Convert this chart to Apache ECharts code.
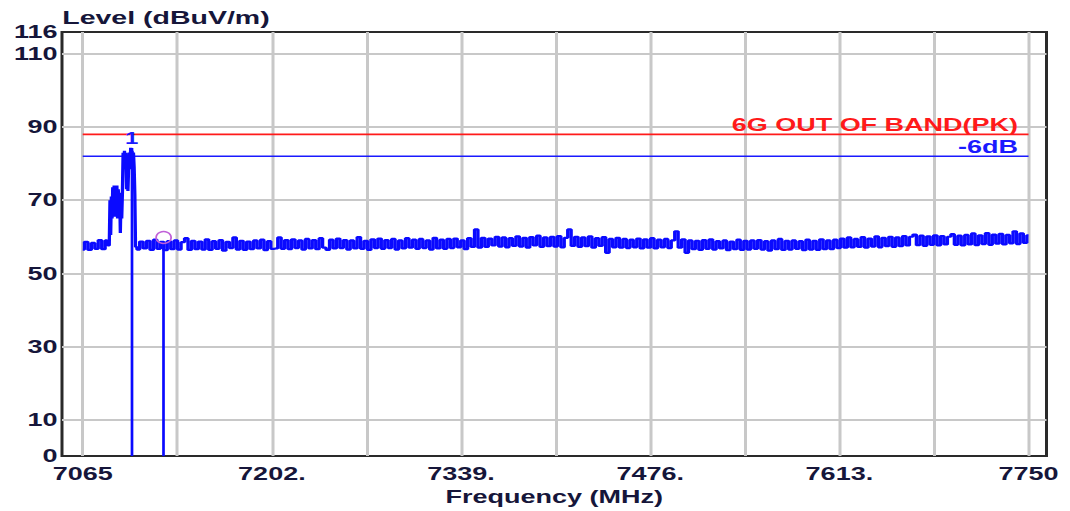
<!DOCTYPE html>
<html>
<head>
<meta charset="utf-8">
<script src="https://cdn.jsdelivr.net/npm/echarts@6/dist/echarts.min.js"></script>
<style>
  html, body { margin: 0; padding: 0; background: #fff; overflow: hidden; }
  /* the analyzer plot is stretched sideways, so draw narrow and widen it */
  #chart { width: 713.333px; height: 511px; transform: scaleX(1.5); transform-origin: 0 0; }
</style>
</head>
<body>
<div id="chart"></div>
<script>
// axis ticks
var xLabelValues = [7065, 7202, 7339, 7476, 7613, 7750];
var xLabelTexts  = ['7065', '7202.', '7339.', '7476.', '7613.', '7750'];
var xGridValues  = [7065, 7133.5, 7202, 7270.5, 7339, 7407.5, 7476, 7544.5, 7613, 7681.5, 7750];
var yLabelValues = [0, 10, 30, 50, 70, 90, 110, 116];
var yGridValues  = [10, 30, 50, 70, 90, 110];

// limit lines (dBuV/m)
var limitFreq   = [7065, 7750];
var limitLevel  = [88, 88];      // 6G OUT OF BAND(PK)
var marginLevel = [82, 82];      // -6dB

// sweep: noise floor before the carrier
var sweepStep = 2.5;
var noiseAStart = 7065;
var noiseA = [56.5, 58.6, 56.4, 58.3, 56.7, 59.1, 56.6, 59.0];

// carrier region
var peakFreq  = [7084, 7084.5, 7085, 7085.5, 7086, 7086.5, 7087, 7087.5, 7088, 7088.5,
                 7089, 7089.5, 7090, 7090.5, 7091, 7091.5, 7092, 7092.5, 7093, 7093.5,
                 7094, 7094.5, 7095, 7095.5, 7096, 7096.5, 7097, 7097.5, 7098, 7098.5,
                 7099, 7099.5, 7100, 7100.5, 7101, 7101.5, 7102, 7102.5, 7103, 7103.5];
var peakLevel = [57.6, 58.2, 70.0, 60.5, 71.0, 65.0, 73.5, 66.0, 74.0, 65.5,
                 73.5, 66.0, 74.0, 65.0, 73.0, 66.0, 72.0, 61.0, 71.0, 65.0,
                 72.0, 83.0, 79.0, 83.5, 78.5, 83.0, 73.0, 78.0, 72.5, 79.0,
                 83.0, 79.0, 84.3, 78.5, 83.5, 78.0, 83.0, 79.0, 71.5, 57.2];

// noise floor after the carrier
var noiseBStart = 7105;
var noiseB = [
  56.5, 58.7, 56.8, 58.9, 56.4, 59.2, 56.7, 58.6, 56.3, 58.8,
  56.6, 59.0, 56.5, 58.5, 59.6, 56.4, 58.9, 56.6, 58.7, 56.5,
  59.3, 56.4, 58.8, 56.7, 59.1, 56.2, 58.6, 56.9, 59.8, 56.5,
  58.9, 56.4, 58.7, 56.6, 59.0, 56.8, 59.2, 56.3, 58.8, 56.7,
  56.8, 59.8, 56.7, 59.1, 56.6, 59.3, 56.9, 59.0, 56.5, 59.4,
  56.8, 59.1, 56.6, 59.6, 57.0, 56.4, 59.2, 56.8, 59.5, 56.9,
  59.1, 56.5, 59.0, 56.8, 59.9, 56.7, 58.9, 56.4, 59.3, 56.9,
  59.5, 56.7, 59.1, 56.9, 59.4, 56.5, 59.0, 56.8, 59.6, 57.0,
  59.2, 56.7, 59.4, 56.9, 59.0, 56.5, 59.7, 56.8, 59.2, 56.7,
  59.4, 56.9, 59.5, 57.1, 59.0, 56.6, 59.6, 57.2, 62.0, 57.0,
  59.7, 57.2, 59.5, 57.6, 60.0, 57.3, 59.8, 57.1, 59.6, 57.5,
  60.1, 57.3, 59.7, 57.0, 59.9, 57.6, 60.3, 57.2, 59.8, 57.4,
  60.0, 57.3, 60.2, 57.1, 59.7, 62.0, 57.5, 60.0, 57.2, 59.8,
  57.4, 60.1, 57.0, 59.6, 57.5, 59.9, 55.6, 59.4, 57.1, 59.7,
  57.0, 59.4, 56.9, 59.2, 57.1, 59.5, 56.8, 59.3, 57.0, 59.6,
  56.8, 59.2, 57.1, 59.4, 56.9, 59.0, 61.5, 57.0, 59.3, 55.6,
  59.0, 56.6, 58.9, 56.4, 59.1, 56.7, 59.3, 56.5, 58.8, 56.8,
  59.0, 56.3, 58.7, 56.6, 59.2, 56.4, 58.9, 56.5, 59.0, 56.7,
  59.1, 56.5, 58.8, 56.2, 59.0, 56.6, 59.4, 56.4, 58.9, 56.5,
  59.0, 56.7, 58.8, 56.3, 59.2, 56.5, 58.9, 56.4, 59.3, 56.6,
  59.0, 56.6, 59.2, 56.9, 59.5, 57.0, 59.8, 57.1, 59.4, 57.2,
  59.9, 57.0, 59.5, 57.3, 60.1, 57.1, 59.7, 57.4, 60.0, 57.2,
  59.8, 57.4, 60.2, 57.6, 60.0, 60.6, 57.7, 60.3, 57.5, 60.1,
  57.8, 60.4, 57.6, 60.2, 57.9, 60.0, 60.7, 57.8, 60.3, 57.6,
  60.5, 57.9, 60.9, 57.7, 60.4, 58.0, 61.0, 57.8, 60.6, 58.1,
  60.8, 57.9, 60.5, 58.2, 61.5, 58.0, 60.9, 58.3, 60.4
];

// markers: freq, level
var markerFreq  = [7100.4, 7123.6];
var markerLevel = [84.3, 58.0];
var markerText  = ['1', ''];

var fontFam = "'Liberation Sans', Arial, sans-serif";
var textCol = '#16163a';

var trace = [];
noiseA.forEach(function (v, i) { trace.push([noiseAStart + i * sweepStep, v]); });
peakFreq.forEach(function (f, i) { trace.push([f, peakLevel[i]]); });
noiseB.forEach(function (v, i) { trace.push([noiseBStart + i * sweepStep, v]); });

var markerLines = [];
markerFreq.forEach(function (f, i) {
  markerLines.push([
    { coord: [f, 0] },
    { coord: [f, markerLevel[i]], label: { show: markerText[i] > '', formatter: markerText[i] } }
  ]);
});

function limitSeries(name, levels, color, text) {
  return {
    name: name,
    type: 'line',
    data: limitFreq.map(function (f, i) { return [f, levels[i]]; }),
    showSymbol: false,
    symbol: 'none',
    lineStyle: { color: color, width: 1.6 },
    endLabel: {
      show: true,
      formatter: function () { return text; },
      align: 'right',
      verticalAlign: 'bottom',
      distance: 0,
      offset: [-7, -1],
      fontFamily: fontFam, fontSize: 18, fontWeight: 'bold', color: color
    },
    z: 3
  };
}

var chartsOption = {
  animation: false,
  backgroundColor: '#fff',
  title: {
    text: 'Level (dBuV/m)',
    left: 41.5,
    top: 8,
    padding: 0,
    textStyle: { fontFamily: fontFam, fontSize: 19, fontWeight: 'bold', color: textCol }
  },
  grid: {
    left: 41.333, right: 15.333, top: 32, bottom: 51,
    show: true, borderColor: '#2a2a2a', borderWidth: 2, backgroundColor: 'transparent'
  },
  xAxis: {
    type: 'value',
    min: 7050,
    max: 7763,
    name: 'Frequency (MHz)',
    nameLocation: 'middle',
    nameGap: 26,
    nameTextStyle: { fontFamily: fontFam, fontSize: 18, fontWeight: 'bold', color: textCol },
    axisLine: { show: false },
    axisTick: { show: false, customValues: xGridValues },
    axisLabel: {
      customValues: xLabelValues,
      margin: 9,
      fontFamily: fontFam, fontSize: 18, fontWeight: 'bold', color: textCol,
      formatter: function (v) {
        var k = xLabelValues.indexOf(v);
        return k >= 0 ? xLabelTexts[k] : '';
      }
    },
    splitLine: { show: true, lineStyle: { color: '#c8c8c8', width: 2 } }
  },
  yAxis: {
    type: 'value',
    min: 0,
    max: 116,
    axisLine: { show: false },
    axisTick: { show: false, customValues: yGridValues },
    axisLabel: {
      customValues: yLabelValues,
      margin: 3,
      fontFamily: fontFam, fontSize: 18, fontWeight: 'bold', color: textCol
    },
    splitLine: { show: true, lineStyle: { color: '#c8c8c8', width: 2 } }
  },
  series: [
    limitSeries('limit', limitLevel, '#ff1a1a', '6G OUT OF BAND(PK)'),
    limitSeries('-6dB', marginLevel, '#1a1aff', '-6dB'),
    {
      name: 'trace',
      type: 'line',
      data: trace,
      step: 'middle',
      showSymbol: false,
      symbol: 'none',
      lineStyle: { color: '#0a0aff', width: 2.2 },
      markLine: {
        silent: true,
        symbol: 'none',
        lineStyle: { color: '#0a0aff', width: 1.8, type: 'solid' },
        label: {
          position: 'end', distance: 1,
          fontFamily: fontFam, fontSize: 16, fontWeight: 'bold', color: '#1a1aff'
        },
        data: markerLines
      },
      markPoint: {
        silent: true,
        symbol: 'circle',
        symbolSize: [10, 12],
        itemStyle: { color: 'none', borderColor: '#c060d8', borderWidth: 1.3 },
        label: { show: false },
        data: [{ coord: [markerFreq[1], markerLevel[1] + 1.8] }]
      },
      z: 4
    }
  ]
};

var myChart = echarts.init(document.getElementById('chart'), null, { renderer: 'svg' });
chartsOption && myChart.setOption(chartsOption, true);
</script>
</body>
</html>
